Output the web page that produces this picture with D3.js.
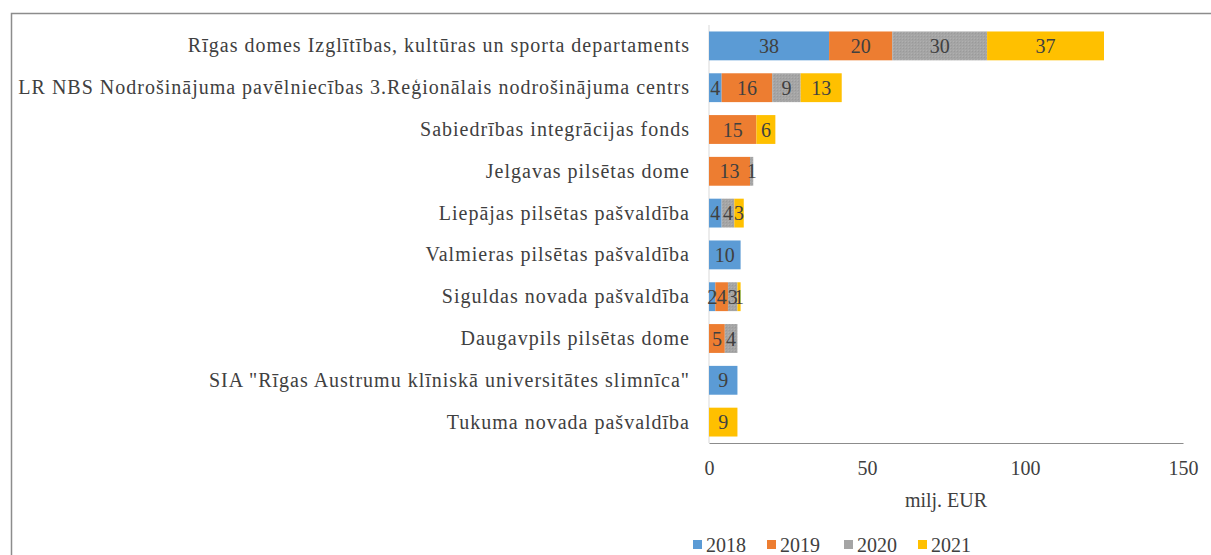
<!DOCTYPE html>
<html>
<head>
<meta charset="utf-8">
<script src="https://cdn.jsdelivr.net/npm/d3@7"></script>
<style>
  body { margin: 0; background: #fff; }
  text { font-family: "Liberation Serif", "Times New Roman", serif; }
</style>
</head>
<body>
<svg id="chart" width="1211" height="555"></svg>
<script>
const categories = [
  "Rīgas domes Izglītības, kultūras un sporta departaments",
  "LR NBS Nodrošinājuma pavēlniecības 3.Reģionālais nodrošinājuma centrs",
  "Sabiedrības integrācijas fonds",
  "Jelgavas pilsētas dome",
  "Liepājas pilsētas pašvaldība",
  "Valmieras pilsētas pašvaldība",
  "Siguldas novada pašvaldība",
  "Daugavpils pilsētas dome",
  "SIA \"Rīgas Austrumu klīniskā universitātes slimnīca\"",
  "Tukuma novada pašvaldība"
];
const years = ["2018", "2019", "2020", "2021"];
const v2018 = [38, 4, 0, 0, 4, 10, 2, 0, 9, 0];
const v2019 = [20, 16, 15, 13, 0, 0, 4, 5, 0, 0];
const v2020 = [30, 9, 0, 1, 4, 0, 3, 4, 0, 0];
const v2021 = [37, 13, 6, 0, 3, 0, 1, 0, 0, 9];
const xTicks = [0, 50, 100, 150];
const colors = ["#5b9bd5", "#ed7d31", "#a5a5a5", "#ffc000"];

const svg = d3.select("#chart");
const width = 1211;
const height = 555;
const textColor = "#404040";
const fontSize = 20;

const defs = svg.append("defs");
const pat = defs.append("pattern")
  .attr("id", "grayTex")
  .attr("width", 3).attr("height", 3)
  .attr("patternUnits", "userSpaceOnUse");
pat.append("rect").attr("width", 3).attr("height", 3).attr("fill", "#a5a5a5");
pat.append("rect").attr("width", 1).attr("height", 1).attr("fill", "#9a9a9a");
pat.append("rect").attr("x", 2).attr("y", 2).attr("width", 1).attr("height", 1).attr("fill", "#b0b0b0");

// outer frame
svg.append("rect")
  .attr("x", 11.5).attr("y", 13.5)
  .attr("width", width).attr("height", height)
  .attr("fill", "none")
  .attr("stroke", "#8c8c8c")
  .attr("stroke-width", 1.5);

const margin = { left: 709, right: 28, top: 25, bottom: 112 };
const plotW = width - margin.left - margin.right;
const plotH = height - margin.top - margin.bottom;

const x = d3.scaleLinear().domain([0, 150]).range([margin.left, margin.left + plotW]);
const y = d3.scaleBand().domain(categories).range([margin.top, margin.top + plotH]).paddingInner(0.31).paddingOuter(0.155);

const series = [v2018, v2019, v2020, v2021];
const rows = categories.map((c, i) => {
  const o = { cat: c };
  years.forEach((yr, k) => { o[yr] = series[k][i]; });
  return o;
});
const stacked = d3.stack().keys(years)(rows);

// y axis line
svg.append("line")
  .attr("x1", x(0)).attr("x2", x(0))
  .attr("y1", margin.top).attr("y2", margin.top + plotH)
  .attr("stroke", "#d9d9d9").attr("stroke-width", 1);

const layers = svg.append("g").selectAll("g")
  .data(stacked)
  .join("g")
  .attr("fill", (d, i) => i === 2 ? "url(#grayTex)" : colors[i]);

layers.selectAll("rect")
  .data(d => d.filter(s => s[1] - s[0] > 0))
  .join("rect")
  .attr("x", d => x(d[0]))
  .attr("y", d => y(d.data.cat))
  .attr("width", d => x(d[1]) - x(d[0]))
  .attr("height", y.bandwidth());

const labels = svg.append("g");
stacked.forEach(layer => {
  layer.forEach(s => {
    const v = s[1] - s[0];
    if (v <= 0) return;
    labels.append("text")
      .attr("x", (x(s[0]) + x(s[1])) / 2)
      .attr("y", y(s.data.cat) + y.bandwidth() / 2)
      .attr("dy", "0.35em")
      .attr("text-anchor", "middle")
      .attr("font-size", fontSize)
      .attr("fill", textColor)
      .text(v);
  });
});

// category labels
svg.append("g")
  .call(d3.axisLeft(y).tickSize(0).tickPadding(19))
  .attr("transform", `translate(${margin.left},0)`)
  .call(g => g.select(".domain").remove())
  .call(g => g.selectAll("text")
    .attr("font-family", "Liberation Serif, serif")
    .attr("font-size", fontSize)
    .attr("letter-spacing", 1.0)
    .attr("fill", textColor));

// x axis
svg.append("g")
  .attr("transform", `translate(0,${margin.top + plotH})`)
  .call(d3.axisBottom(x).tickValues(xTicks).tickSize(0).tickPadding(18))
  .call(g => g.select(".domain").attr("stroke", "#8c8c8c").attr("stroke-width", 1.2))
  .call(g => g.selectAll("text")
    .attr("font-family", "Liberation Serif, serif")
    .attr("font-size", fontSize)
    .attr("fill", textColor));

svg.append("text")
  .attr("x", x(75))
  .attr("y", 507)
  .attr("text-anchor", "middle")
  .attr("font-size", fontSize)
  .attr("fill", textColor)
  .text("milj. EUR");

// legend
const legendX = [693, 767, 844, 918];
const legend = svg.append("g");
years.forEach((yr, i) => {
  legend.append("rect")
    .attr("x", legendX[i]).attr("y", 540)
    .attr("width", 9).attr("height", 9)
    .attr("fill", colors[i]);
  legend.append("text")
    .attr("x", legendX[i] + 13).attr("y", 552)
    .attr("font-size", fontSize)
    .attr("fill", textColor)
    .text(yr);
});
</script>
</body>
</html>
